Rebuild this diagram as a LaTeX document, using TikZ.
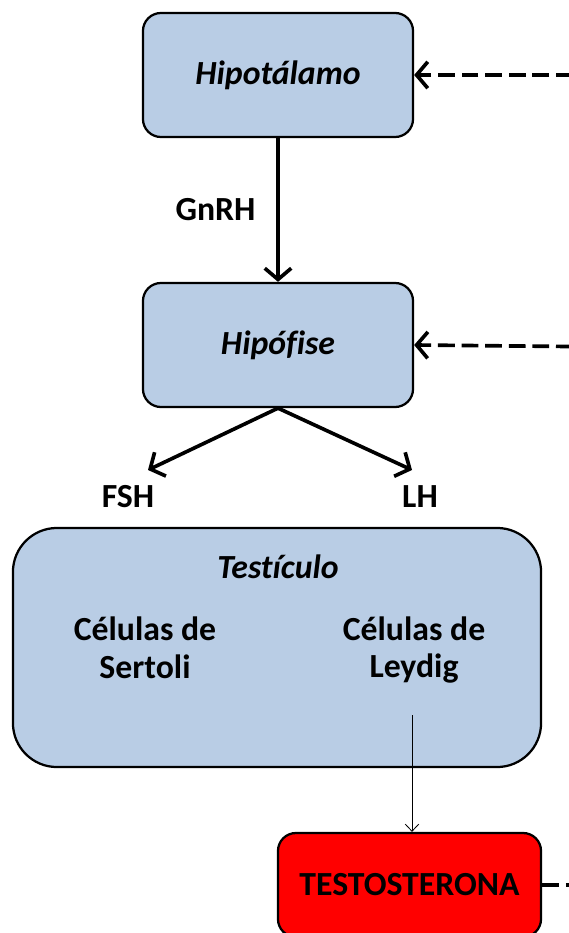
\documentclass[tikz,border=0pt]{standalone}
\usepackage{fontspec}
\setmainfont{Carlito}[Ligatures={NoCommon}]
\usepackage{xcolor}
\usetikzlibrary{arrows.meta}
\definecolor{glandblue}{RGB}{185,205,229}
\definecolor{hormonered}{RGB}{255,0,0}

\begin{document}
\begin{tikzpicture}[x=0.025cm, y=-0.025cm,
    every node/.style={font=\bfseries\fontsize{24}{27}\selectfont, align=center},
    gland/.style={draw, line width=1.6pt, rounded corners=0.45cm, fill=glandblue, minimum width=6.75cm, minimum height=3.1cm},
    arrow/.style={-{Straight Barb[length=2.8mm, width=6.6mm, line width=2.6pt]}, line width=2.6pt},
    feedback/.style={arrow, dash pattern=on 0.42cm off 0.17cm},
    thinarrow/.style={-{Straight Barb[length=1.8mm, width=3.4mm]}, line width=0.6pt}
]
\clip (0,0) rectangle (569,933);

\node[gland] (hipot) at (278,75) {\textit{Hipotálamo}};
\node[gland] (hipof) at (278,345) {\textit{Hipófise}};
\node[gland, minimum width=13.2cm, minimum height=5.975cm, rounded corners=1.1cm] (test) at (277,647.5) {};
\node[draw, line width=1.6pt, rounded corners=0.45cm, fill=hormonered, minimum width=6.575cm, minimum height=2.6cm] (testo) at (409.5,885) {TESTOSTERONA};

% texts in the testicle
\node (testlbl) at (278,567) {\textit{Testículo}};
\node (sertoli) at (145,648) {Células de\\Sertoli};
\node (leydig) at (414,650) {Células de\\Leydig};

% hormones
\draw[arrow] (hipot) -- node[left=0.4cm] {GnRH} (hipof);
\coordinate (fshend) at (148,470);
\coordinate (lhend) at (412,470);
\draw[arrow] (hipof.south) -- (fshend);
\draw[arrow] (hipof.south) -- (lhend);
\node (fsh) at (128,497) {FSH};
\node (lh) at (420,497) {LH};

\coordinate (leyout) at (412,715);
\draw[thinarrow] (leyout) -- (leyout |- testo.north);

% feedback
\coordinate (fb1) at (620,75);
\coordinate (fb2) at (620,347);
\coordinate (fb3) at (620,885);
\draw[feedback] (fb1) -- (hipot.east);
\draw[feedback] (fb2) -- (hipof.east);
\draw[line width=2.6pt, dash pattern=on 0.42cm off 0.17cm] (testo.east) -- (fb3);

\end{tikzpicture}
\end{document}
